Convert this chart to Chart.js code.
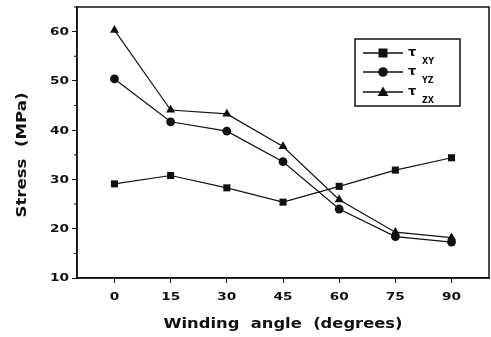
<!DOCTYPE html>
<html><head><meta charset="utf-8">
<script src="https://cdn.jsdelivr.net/npm/chart.js@4/dist/chart.umd.min.js"></script>
<style>html,body{margin:0;padding:0;background:#fff}#wrap{width:491px;height:337px}</style>
</head><body><div id="wrap"><canvas id="c"></canvas></div>
<script>
const angles = [0, 15, 30, 45, 60, 75, 90];
const tauXY = [29.1, 30.8, 28.3, 25.4, 28.6, 31.9, 34.4];
const tauYZ = [50.4, 41.7, 39.8, 33.6, 24.0, 18.4, 17.3];
const tauZX = [60.3, 44.1, 43.3, 36.7, 25.9, 19.3, 18.2];
const yTicks = [10, 20, 30, 40, 50, 60];
const yMinor = [15, 25, 35, 45, 55, 65];
const xTicks = [0, 15, 30, 45, 60, 75, 90];
const xTitle = 'Winding  angle  (degrees)';
const yTitle = 'Stress  (MPa)';
const seriesNames = [['\u03C4','XY'], ['\u03C4','YZ'], ['\u03C4','ZX']];
const styles = ['rect','circle','triangle'];

const pts = arr => angles.map((a,i)=>({x:a, y:arr[i]}));
const ink = '#111';
const FONT = '"DejaVu Sans", Verdana, sans-serif';

function drawScaled(ctx, text, x, y, font, sx, align){
  ctx.save();
  ctx.font = font;
  const w = ctx.measureText(text).width * sx;
  let left = x;
  if (align === 'center') left = x - w/2;
  else if (align === 'right') left = x - w;
  ctx.translate(left, y);
  ctx.scale(sx, 1);
  ctx.textAlign = 'left';
  ctx.fillText(text, 0, 0);
  ctx.restore();
}
function fitScale(ctx, text, font, target){
  ctx.save(); ctx.font = font; const w = ctx.measureText(text).width; ctx.restore();
  return target / w;
}

const frame = {
  id:'frame',
  afterDraw(chart){
    const {ctx, chartArea:a, scales} = chart;
    ctx.save();
    ctx.strokeStyle = ink; ctx.fillStyle = ink; ctx.lineWidth = 1.5;
    ctx.strokeRect(a.left, a.top, a.right-a.left, a.bottom-a.top);
    ctx.lineWidth = 1;
    yMinor.forEach(v=>{
      const y = scales.y.getPixelForValue(v);
      if (y < a.top) return;
      ctx.beginPath(); ctx.moveTo(a.left-3, y); ctx.lineTo(a.left, y); ctx.stroke();
    });
    const tf = 'bold 11px ' + FONT;
    const tsx = fitScale(ctx, '60', tf, 19);
    ctx.textBaseline = 'middle';
    scales.y.ticks.forEach(t=>{
      drawScaled(ctx, String(t.value), a.left-8, scales.y.getPixelForValue(t.value)+0.5, tf, tsx, 'right');
    });
    ctx.textBaseline = 'alphabetic';
    scales.x.ticks.forEach(t=>{
      drawScaled(ctx, String(t.value), scales.x.getPixelForValue(t.value), a.bottom+22, tf, tsx, 'center');
    });
    const hf = 'bold 14px ' + FONT;
    drawScaled(ctx, xTitle, 283, 328, hf, fitScale(ctx, xTitle, hf, 239), 'center');
    ctx.save();
    ctx.translate(26, 155);
    ctx.rotate(-Math.PI/2);
    drawScaled(ctx, yTitle, 0, 0, hf, fitScale(ctx, yTitle, hf, 125), 'center');
    ctx.restore();
    const L=355, T=39, R=460, B=106;
    ctx.lineWidth = 1.5;
    ctx.strokeRect(L, T, R-L, B-T);
    const rows=[53,72,92];
    rows.forEach((y,i)=>{
      ctx.strokeStyle = ink; ctx.lineWidth = 1.3;
      ctx.beginPath(); ctx.moveTo(363,y); ctx.lineTo(403,y); ctx.stroke();
      ctx.fillStyle = ink;
      const cx=383;
      if(i===0){ ctx.fillRect(cx-4.5,y-4.5,9,9); }
      else if(i===1){ ctx.beginPath(); ctx.arc(cx,y,4.8,0,Math.PI*2); ctx.fill(); }
      else { ctx.beginPath(); ctx.moveTo(cx,y-5.5); ctx.lineTo(cx+5.5,y+4); ctx.lineTo(cx-5.5,y+4); ctx.closePath(); ctx.fill(); }
      ctx.font = 'bold 13px ' + FONT;
      ctx.textBaseline='middle'; ctx.textAlign='left';
      ctx.fillText(seriesNames[i][0], 408, y);
      ctx.font = 'bold 8px ' + FONT;
      ctx.fillText(seriesNames[i][1], 422, y+9);
    });
    ctx.restore();
  }
};

const ds = (label, arr, ps) => ({
  label, data: pts(arr), borderColor: ink, backgroundColor: ink,
  borderWidth: 1.2, pointStyle: ps, pointRadius: ps==='rect'?5:(ps==='triangle'?5.2:4.4),
  pointBorderWidth: 0, tension: 0, fill:false
});

new Chart(document.getElementById('c'), {
  type:'line',
  data:{ datasets:[ ds('τXY',tauXY,styles[0]), ds('τYZ',tauYZ,styles[1]), ds('τZX',tauZX,styles[2]) ] },
  options:{
    responsive:true, maintainAspectRatio:false, animation:false,
    layout:{autoPadding:false, padding:{top:7,right:2,left:0,bottom:0}},
    plugins:{legend:{display:false}, tooltip:{enabled:false}},
    scales:{
      x:{ type:'linear', min:-10, max:100,
        afterBuildTicks(s){ s.ticks = xTicks.map(v=>({value:v})); },
        afterFit(s){ s.height = 59; },
        border:{display:true,color:ink,width:1.5},
        grid:{drawOnChartArea:false, tickLength:5, color:ink, tickColor:ink},
        ticks:{display:false},
        title:{display:false}
      },
      y:{ type:'linear', min:10, max:65,
        afterBuildTicks(s){ s.ticks = yTicks.map(v=>({value:v})); },
        afterFit(s){ s.width = 77; },
        border:{display:true,color:ink,width:1.5},
        grid:{drawOnChartArea:false, tickLength:5, color:ink, tickColor:ink},
        ticks:{display:false},
        title:{display:false}
      }
    }
  },
  plugins:[frame]
});
</script>
</body></html>
